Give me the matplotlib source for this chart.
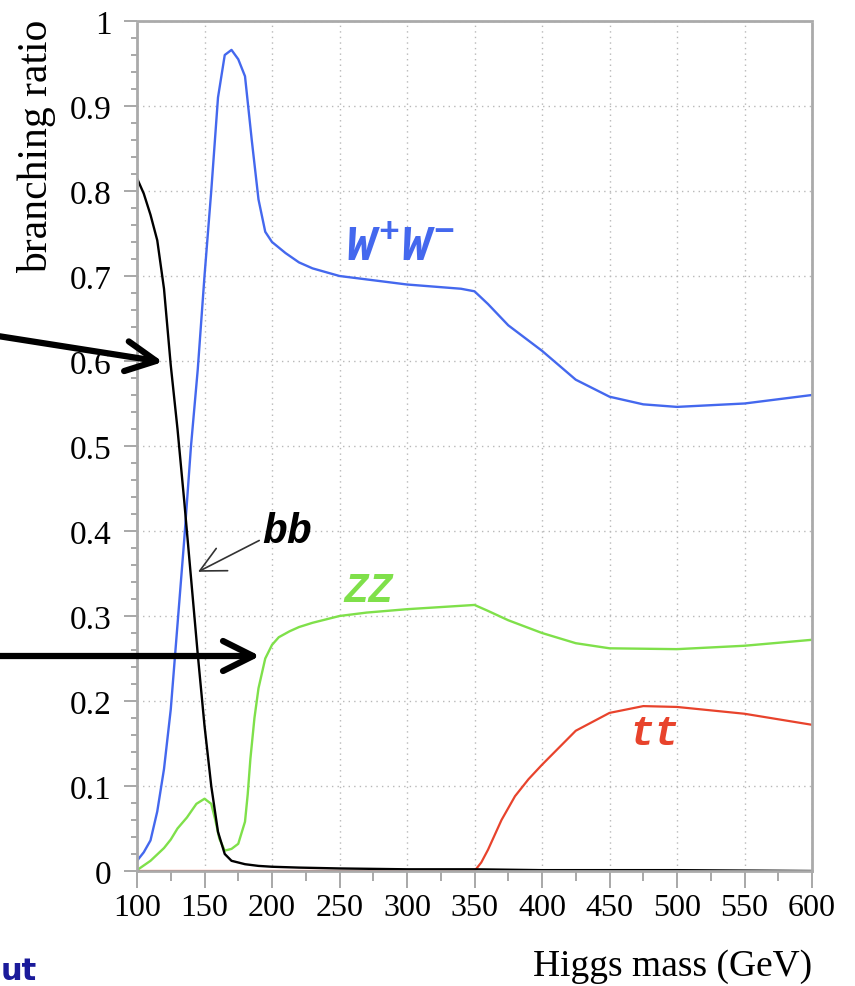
import numpy as np
import matplotlib
matplotlib.use('Agg')
import matplotlib.pyplot as plt
from matplotlib.ticker import MultipleLocator, FuncFormatter

plt.rcParams['font.family'] = ['Liberation Serif', 'DejaVu Serif']
plt.rcParams['mathtext.fontset'] = 'custom'
plt.rcParams['mathtext.it'] = 'Liberation Mono:italic:bold'
plt.rcParams['mathtext.rm'] = 'Liberation Mono:bold'

# Higgs branching ratios
mass_ww = [100, 105, 110, 115, 120, 125, 130, 135, 140, 145, 150, 155, 160, 165, 170,
           175, 180, 185, 190, 195, 200, 210, 220, 230, 250, 270, 300, 340, 350, 360,
           375, 400, 425, 450, 475, 500, 550, 600]
br_ww = [0.012, 0.022, 0.036, 0.07, 0.12, 0.19, 0.29, 0.39, 0.50, 0.59, 0.70, 0.80, 0.91,
         0.96, 0.966, 0.955, 0.935, 0.86, 0.79, 0.752, 0.74, 0.727, 0.716, 0.709, 0.70,
         0.696, 0.69, 0.685, 0.682, 0.667, 0.642, 0.612, 0.578, 0.558, 0.549, 0.546,
         0.55, 0.56]

mass_zz = [100, 110, 120, 125, 130, 137, 144, 150, 155, 158, 161, 165, 170, 175, 180,
           182, 184, 187, 190, 195, 200, 205, 213, 220, 230, 240, 250, 270, 300, 340,
           350, 360, 375, 400, 425, 450, 500, 550, 600]
br_zz = [0.001, 0.012, 0.027, 0.037, 0.05, 0.063, 0.079, 0.085, 0.079, 0.06, 0.038, 0.024,
         0.026, 0.032, 0.058, 0.09, 0.132, 0.18, 0.215, 0.25, 0.266, 0.275, 0.282, 0.287,
         0.292, 0.296, 0.30, 0.304, 0.308, 0.312, 0.313, 0.306, 0.295, 0.28, 0.268,
         0.262, 0.261, 0.265, 0.272]

mass_bb = [100, 105, 110, 115, 120, 125, 130, 135, 140, 145, 150, 155, 160, 165, 170,
           180, 190, 200, 220, 250, 300, 350, 400, 500, 600]
br_bb = [0.815, 0.797, 0.772, 0.742, 0.685, 0.595, 0.52, 0.435, 0.345, 0.255, 0.171, 0.10,
         0.046, 0.02, 0.012, 0.008, 0.006, 0.005, 0.004, 0.003, 0.002, 0.002, 0.001, 0.001, 0.0]

mass_tt = [100, 350, 355, 360, 370, 380, 390, 400, 425, 450, 475, 500, 550, 600]
br_tt = [0.0, 0.0, 0.01, 0.025, 0.06, 0.088, 0.108, 0.125, 0.165, 0.186, 0.194, 0.193,
         0.185, 0.172]

c_ww = '#4468ee'
c_zz = '#7fe04a'
c_tt = '#e8432c'

fig = plt.figure(figsize=(8.55, 9.87), dpi=100)
ax = fig.add_axes([137 / 855, 1 - 872 / 987, 675 / 855, 850 / 987])

ax.plot(mass_tt, br_tt, color=c_tt, lw=1.6)
ax.plot(mass_zz, br_zz, color=c_zz, lw=1.7)
ax.plot(mass_ww, br_ww, color=c_ww, lw=1.7)
ax.plot(mass_bb, br_bb, color='black', lw=1.7)

ax.set_xlim(100, 600)
ax.set_ylim(0, 1)
ax.xaxis.set_major_locator(MultipleLocator(50))
ax.xaxis.set_minor_locator(MultipleLocator(25))
ax.yaxis.set_major_locator(MultipleLocator(0.1))
ax.yaxis.set_minor_locator(MultipleLocator(0.02))
ax.yaxis.set_major_formatter(FuncFormatter(lambda v, p: f'{v:g}'))

ax.grid(which='major', color='#b8b8b8', linestyle=(0, (1, 3)), lw=1)
for s in ax.spines.values():
    s.set_color('#aaaaaa')
    s.set_linestyle((0, (1, 1)))
    s.set_linewidth(2)

ax.tick_params(axis='x', which='major', direction='out', length=12, width=1.2,
               color='#999999', labelsize=23, pad=4)
ax.tick_params(axis='x', which='minor', direction='out', length=7, width=1.2, color='#999999')
ax.tick_params(axis='y', which='major', direction='out', length=9.5, width=1.2,
               color='#999999', labelsize=24, pad=9)
ax.tick_params(axis='y', which='minor', direction='out', length=4, width=1.2, color='#999999')

fig.text(812 / 855, 1 - 976 / 987, 'Higgs mass (GeV)', ha='right', va='baseline', fontsize=27)
fig.text(37 / 855, 1 - 146 / 987, 'branching ratio', rotation=90, ha='center', va='center',
         fontsize=30)

# curve labels
ax.text(254, 0.718, r'$W^{+}W^{-}$', color=c_ww, fontsize=36, ha='left', va='baseline')
ax.text(252.6, 0.318, 'ZZ', color=c_zz, fontsize=30, family='Liberation Mono',
        weight='bold', style='italic', ha='left', va='baseline')
ax.text(465, 0.149, 'tt', color=c_tt, fontsize=30, family='Liberation Mono',
        weight='bold', style='italic', ha='left', va='baseline')
ax.annotate('bb', xy=(145.2, 0.352), xytext=(192.6, 0.387), color='black', fontsize=30,
            family='Liberation Mono', weight='bold', style='italic', ha='left', va='baseline',
            arrowprops=dict(arrowstyle='->,head_length=0.6,head_width=0.3', color='#333333',
                            lw=1.2, shrinkA=0, shrinkB=0, relpos=(0, 0.3)))

# thick pointer arrows coming from outside the plot
big = dict(arrowstyle='->,head_length=1.2,head_width=0.6', color='black', lw=4.5,
           mutation_scale=18, shrinkA=0, shrinkB=0)
ax.annotate('', xy=(163 / 855, 1 - 363 / 987), xytext=(-0.01, 1 - 336 / 987),
            xycoords='figure fraction', textcoords='figure fraction',
            arrowprops=big, annotation_clip=False)
ax.annotate('', xy=(260 / 855, 1 - 657 / 987), xytext=(-0.01, 1 - 657 / 987),
            xycoords='figure fraction', textcoords='figure fraction',
            arrowprops=big, annotation_clip=False)

fig.text(1 / 855, 1 - 980 / 987, 'ut', ha='left', va='baseline', fontsize=22,
         weight='bold', color='#1a1a9a', family='DejaVu Sans')

fig.savefig('out.png', dpi=100)
